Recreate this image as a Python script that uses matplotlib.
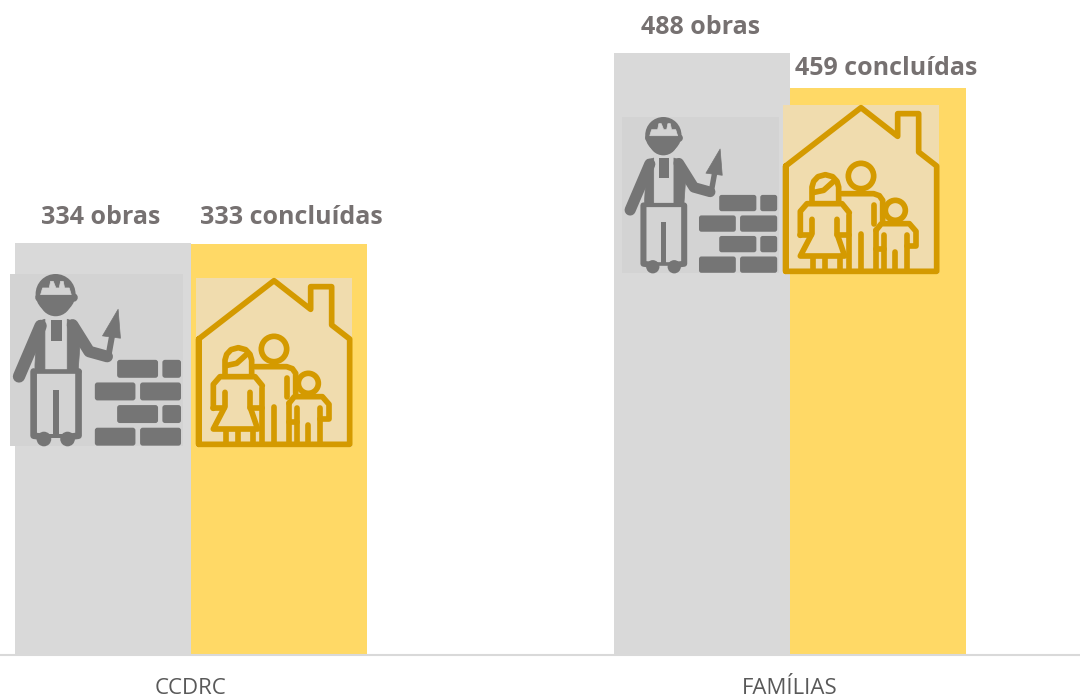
import matplotlib
matplotlib.use('Agg')
import matplotlib.pyplot as plt
import matplotlib.patches as mpatches
from matplotlib.path import Path
from matplotlib.transforms import Affine2D
import numpy as np

plt.rcParams['font.family'] = ['Open Sans', 'DejaVu Sans']

# dados
categories = ['CCDRC', 'FAMÍLIAS']
obras = [334, 488]
concluidas = [333, 459]
label_obras = ['334 obras', '488 obras']
label_concluidas = ['333 concluídas', '459 concluídas']

GREY = '#D9D9D9'
YELLOW = '#FFD966'
TEXT = '#767171'
ICON_GREY = '#757575'
ICON_BG = '#D3D3D3'
GOLD = '#D49A00'
GOLD_BG = '#F0DCAE'

fig = plt.figure(figsize=(10.8, 6.98), dpi=100, facecolor='white')

# eixo principal: 598.7 px entre categorias, 1.2345 px por obra
ax = fig.add_axes([0, 43 / 698, 1, 655 / 698])
ax.set_xlim(-190.8 / 598.7, (1080 - 190.8) / 598.7)
ax.set_ylim(0, 655 / 1.2345)
width = 176 / 598.7
x = np.arange(len(categories))

ax.bar(x - width / 2, obras, width, color=GREY, zorder=1)
ax.bar(x + width / 2, concluidas, width, color=YELLOW, zorder=1)

ax.set_xticks(x, categories)
ax.tick_params(axis='x', length=0, pad=24, labelsize=16, labelcolor='#595959')
for t in ax.get_xticklabels():
    t.set_va('center')
ax.set_yticks([])
for s in ['top', 'left', 'right']:
    ax.spines[s].set_visible(False)
ax.spines['bottom'].set_color(GREY)
ax.spines['bottom'].set_linewidth(1.5)

# rótulos (deslocamentos em px)
off_o = [(-2, 25), (-1, 25)]
off_c = [(13, 26), (8.5, 20)]
for i in range(len(categories)):
    ax.annotate(label_obras[i], (x[i] - width / 2, obras[i]),
                xytext=(off_o[i][0] * 0.72, off_o[i][1] * 0.72), textcoords='offset points',
                ha='center', va='center', fontsize=18, fontweight='bold',
                color=TEXT)
    ax.annotate(label_concluidas[i], (x[i] + width / 2, concluidas[i]),
                xytext=(off_c[i][0] * 0.72, off_c[i][1] * 0.72), textcoords='offset points',
                ha='center', va='center', fontsize=18, fontweight='bold',
                color=TEXT)

# camada em pixels para os ícones
ov = fig.add_axes([0, 0, 1, 1], facecolor='none')
ov.set_xlim(0, 1080)
ov.set_ylim(698, 0)
ov.axis('off')


def line(pts, tr, color, lw):
    codes = [Path.MOVETO] + [Path.LINETO] * (len(pts) - 1)
    ov.add_patch(mpatches.PathPatch(Path(pts, codes), fill=False, edgecolor=color,
                                    lw=lw, capstyle='round', joinstyle='round',
                                    transform=tr, zorder=5))


def poly(pts, tr, color):
    ov.add_patch(mpatches.Polygon(pts, closed=True, facecolor=color, edgecolor=color,
                                  lw=0.5, joinstyle='round', transform=tr, zorder=5))


def rect(x0, y0, x1, y1, tr, color, zorder=5, rounded=True):
    if rounded:
        p = mpatches.FancyBboxPatch((x0 + 6, y0 + 6), x1 - x0 - 12, y1 - y0 - 12,
                                    boxstyle='round,pad=6,rounding_size=8',
                                    facecolor=color, edgecolor='none',
                                    transform=tr, zorder=zorder)
    else:
        p = mpatches.Rectangle((x0, y0), x1 - x0, y1 - y0, facecolor=color,
                               edgecolor='none', transform=tr, zorder=zorder)
    ov.add_patch(p)


def circle(cx, cy, r, tr, face, edge='none', lw=0):
    ov.add_patch(mpatches.Circle((cx, cy), r, facecolor=face, edgecolor=edge, lw=lw,
                                 transform=tr, zorder=5))


def worker(px, py, w):
    # coordenadas locais: caixa 30..550 x 252..770
    s = w / 520
    tr = Affine2D().translate(-30, -252).scale(s).translate(px, py) + ov.transData
    k = s * 0.72
    c = ICON_GREY
    rect(30, 252, 550, 770, tr, ICON_BG, zorder=4, rounded=False)
    # capacete e cabeça
    circle(167, 331, 48, tr, c)
    circle(167, 312, 60, tr, c)
    line([(118, 321), (218, 321)], tr, c, 26 * k)
    poly([(122, 314), (214, 314), (208, 294), (194, 294), (190, 274), (182, 274), (178, 294),
          (168, 294), (160, 274), (152, 274), (148, 294), (128, 294)], tr, ICON_BG)
    # braços
    line([(122, 408), (57, 560)], tr, c, 37 * k)
    line([(218, 405), (268, 485), (322, 500)], tr, c, 35 * k)
    # alças
    poly([(112, 395), (135, 388), (135, 541), (105, 541), (105, 525)], tr, c)
    poly([(202, 388), (225, 396), (240, 470), (235, 541), (202, 541)], tr, c)
    rect(152, 389, 185, 454, tr, c, rounded=False)
    # pernas
    line([(101, 545), (101, 738), (130, 742)], tr, c, 20 * k)
    line([(236, 545), (236, 738), (205, 742)], tr, c, 20 * k)
    line([(101, 545), (236, 545)], tr, c, 14 * k)
    rect(160, 601, 177, 740, tr, c, rounded=False)
    circle(132, 748, 22, tr, c)
    circle(203, 748, 22, tr, c)
    line([(112, 738), (222, 738)], tr, c, 12 * k)
    # colher
    poly([(355, 358), (308, 438), (362, 445)], tr, c)
    line([(336, 442), (325, 503)], tr, c, 18 * k)
    # tijolos
    for y0 in [510, 646]:
        rect(352, y0, 475, y0 + 54, tr, c)
        rect(488, y0, 544, y0 + 54, tr, c)
    for y0 in [578, 714]:
        rect(285, y0, 407, y0 + 54, tr, c)
        rect(421, y0, 544, y0 + 54, tr, c)


def house(px, py, w):
    # coordenadas locais: caixa 588..1056 x 264..770
    s = w / 468
    tr = Affine2D().translate(-588, -264).scale(s).translate(px, py) + ov.transData
    k = s * 0.72
    c = GOLD
    lw = 17 * k
    rect(588, 264, 1056, 770, tr, GOLD_BG, zorder=4, rounded=False)
    line([(596, 763), (596, 447), (822, 272), (932, 358), (932, 290), (995, 290),
          (995, 405), (1049, 447), (1049, 763), (596, 763), (596, 447)], tr, c, lw)

    def fam(pts):
        line([(615 + a, 405 + b) for a, b in pts], tr, c, lw)

    # pai
    circle(822, 477, 38, tr, 'none', c, lw)
    fam([(150, 125), (245, 125), (262, 131), (272, 145), (272, 205)])
    fam([(245, 160), (245, 215)])
    fam([(207, 245), (207, 355)])
    fam([(172, 190), (172, 355)])
    # mãe
    fam([(60, 148), (60, 105), (65, 88), (78, 74), (100, 68), (122, 74), (135, 88),
         (140, 105), (140, 148)])
    fam([(62, 122), (95, 115), (125, 88)])
    fam([(25, 250), (25, 178), (45, 155), (150, 155), (172, 182)])
    fam([(60, 202), (60, 245), (25, 312), (158, 312), (135, 245), (135, 202)])
    fam([(25, 250), (58, 250)])
    fam([(135, 250), (170, 250)])
    fam([(62, 318), (62, 355)])
    fam([(100, 318), (100, 355)])
    fam([(145, 318), (145, 355)])
    # criança
    circle(925, 580, 30, tr, 'none', c, lw)
    fam([(252, 235), (268, 215), (352, 215), (372, 238), (372, 282), (345, 282), (345, 355)])
    fam([(345, 282), (345, 250)])
    fam([(275, 250), (275, 355)])
    fam([(252, 235), (252, 355)])
    fam([(252, 292), (275, 292)])
    fam([(310, 300), (310, 355)])


worker(10, 274, 173)
worker(622, 117, 157)
house(196, 278, 156)
house(783, 105, 156)

fig.savefig('out.png', dpi=100)
